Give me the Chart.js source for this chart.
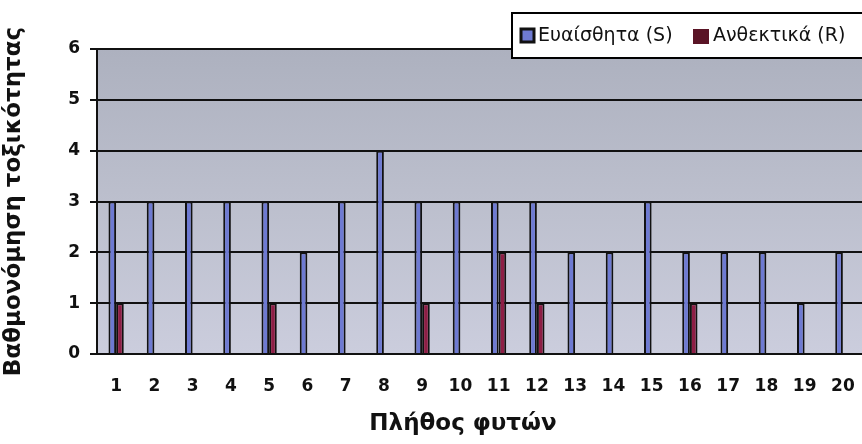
<!DOCTYPE html>
<html>
<head>
<meta charset="utf-8">
<script src="https://cdn.jsdelivr.net/npm/chart.js@4"></script>
<style>
  html, body { margin: 0; padding: 0; background: #fff; }
  #wrap { width: 862px; height: 444px; }
</style>
</head>
<body>
<div id="wrap"><canvas id="toxChart" width="862" height="444"></canvas></div>
<script>
const categories = ["1", "2", "3", "4", "5", "6", "7", "8", "9", "10",
  "11", "12", "13", "14", "15", "16", "17", "18", "19", "20"];
const sensitive = [3, 3, 3, 3, 3, 2, 3, 4, 3, 3, 3, 3, 2, 2, 3, 2, 2, 2, 1, 2];
const resistant = [1, 0, 0, 0, 1, 0, 0, 0, 1, 0, 2, 1, 0, 0, 0, 1, 0, 0, 0, 0];
const seriesNames = ["Ευαίσθητα (S)", "Ανθεκτικά (R)"];
const xTitle = "Πλήθος φυτών";
const yTitle = "Βαθμονόμηση τοξικότητας";
const yMax = 6;

const BLUE = "#6e7ad2";
const RED = "#8e1e45";

const plotBg = {
  id: "plotBg",
  beforeDraw(chart) {
    const { ctx, chartArea: a } = chart;
    const g = ctx.createLinearGradient(0, a.top, 0, a.bottom);
    g.addColorStop(0, "#adb1bf");
    g.addColorStop(0.5, "#bcbfcd");
    g.addColorStop(1, "#cbcddd");
    ctx.save();
    ctx.fillStyle = g;
    ctx.fillRect(a.left, a.top, a.right - a.left, a.bottom - a.top);
    ctx.restore();
  }
};

// legend box and the x title (sits a bit left of the plot centre in the original)
const boxLegend = {
  id: "boxLegend",
  afterDraw(chart) {
    const ctx = chart.ctx;
    ctx.save();
    ctx.fillStyle = "#fff";
    ctx.fillRect(512, 13, 360, 45);
    ctx.strokeStyle = "#000";
    ctx.lineWidth = 2;
    ctx.strokeRect(512, 13, 360, 45);

    ctx.font = "19px 'DejaVu Sans'";
    ctx.textBaseline = "middle";

    ctx.fillStyle = BLUE;
    ctx.fillRect(521, 29, 13, 13);
    ctx.lineWidth = 3;
    ctx.strokeStyle = "#111";
    ctx.strokeRect(521, 29, 13, 13);
    ctx.fillStyle = "#111";
    ctx.fillText(chart.data.datasets[0].label, 538, 36, 142);

    ctx.fillStyle = "#5a1426";
    ctx.fillRect(693, 29, 16, 15);
    ctx.fillStyle = "#111";
    ctx.fillText(chart.data.datasets[1].label, 713, 36, 142);

    ctx.font = "bold 23px 'DejaVu Sans'";
    ctx.textAlign = "center";
    ctx.fillText(xTitle, 463, 424);
    ctx.restore();
  }
};

function initChart() {
  const ctx = document.getElementById("toxChart").getContext("2d");
  new Chart(ctx, {
    type: "bar",
    data: {
      labels: categories,
      datasets: [
        {
          label: seriesNames[0],
          data: sensitive,
          backgroundColor: BLUE,
          borderColor: "#111",
          borderWidth: 2,
          categoryPercentage: 0.4,
          barPercentage: 1.0,
        },
        {
          label: seriesNames[1],
          data: resistant,
          backgroundColor: RED,
          borderColor: "#111",
          borderWidth: 2,
          categoryPercentage: 0.4,
          barPercentage: 1.0,
        },
      ],
    },
    options: {
      responsive: false,
      animation: false,
      layout: { padding: { top: 49, right: 0, bottom: 0, left: 0 } },
      plugins: {
        legend: { display: false },
        tooltip: { enabled: false },
      },
      scales: {
        x: {
          afterFit: (s) => { s.height = 90; },
          grid: {
            display: true,
            drawOnChartArea: false,
            offset: true,
            tickLength: 22,
            tickColor: "transparent",
          },
          border: { display: true, color: "#111", width: 2 },
          ticks: {
            color: "#111",
            font: { family: "DejaVu Sans", size: 17, weight: "bold" },
            padding: 0,
            maxRotation: 0,
            autoSkip: false,
          },
        },
        y: {
          min: 0,
          max: yMax,
          afterFit: (s) => { s.width = 97; },
          grid: {
            color: "#111",
            lineWidth: 2,
            tickLength: 7,
            tickColor: "#111",
          },
          border: { display: true, color: "#111", width: 2 },
          ticks: {
            stepSize: 1,
            color: "#111",
            font: { family: "DejaVu Sans", size: 17, weight: "bold" },
            padding: 10,
          },
          title: {
            display: true,
            text: yTitle,
            color: "#111",
            font: { family: "DejaVu Sans", size: 23, weight: "bold" },
            padding: { top: 0, bottom: 4 },
          },
        },
      },
    },
    plugins: [plotBg, boxLegend],
  });
}

document.addEventListener("DOMContentLoaded", () => {
  initChart();
});
</script>
</body>
</html>
